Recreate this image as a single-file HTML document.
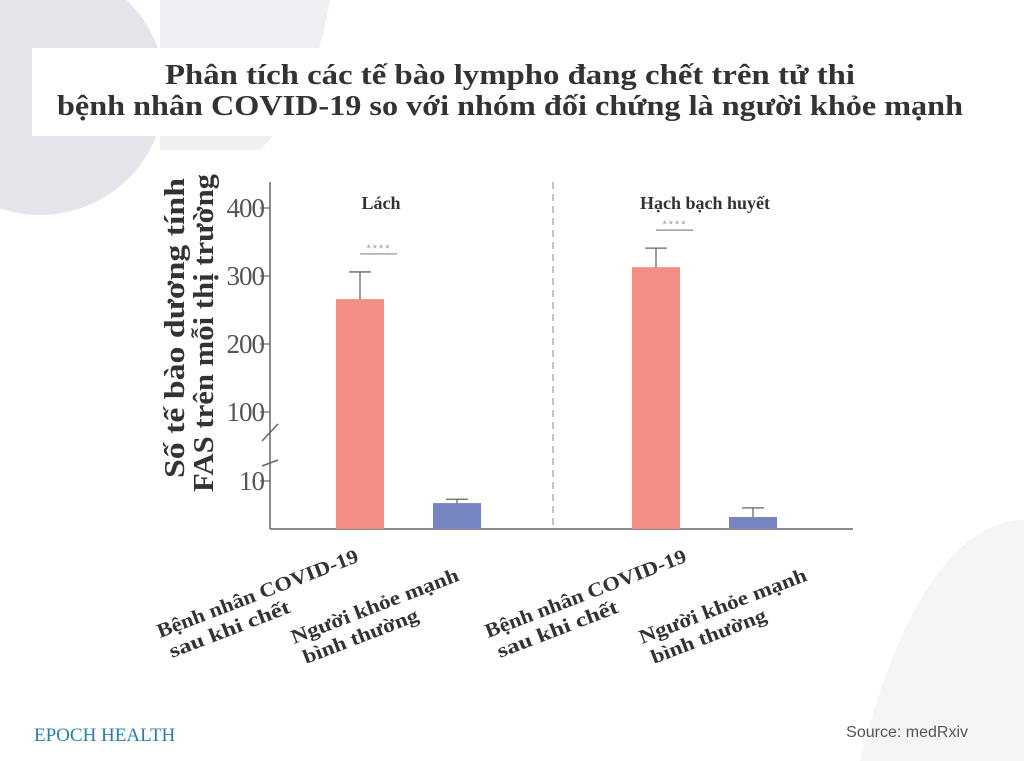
<!DOCTYPE html>
<html><head><meta charset="utf-8"><style>
html,body{margin:0;padding:0;background:#fff;width:1024px;height:761px;overflow:hidden}
svg{display:block}
</style></head><body>
<svg width="1024" height="761" viewBox="0 0 1024 761" id="svg">
<circle cx="40" cy="90" r="125" fill="#e4e5ea"/>
<path d="M160,0 L330,0 C320,60 300,110 260,150 L160,150 Z" fill="#eef0f3"/>
<path d="M1024,520 C960,520 900,600 860,761 L1024,761 Z" fill="#f5f5f6"/>
<rect x="32" y="48" width="992" height="88" fill="#fff"/>
<g font-family="Liberation Serif, serif" font-weight="bold" font-size="28" fill="#333" text-anchor="middle">
<text x="510" y="84" textLength="690" lengthAdjust="spacingAndGlyphs">Phân tích các tế bào lympho đang chết trên tử thi</text>
<text x="510" y="115" textLength="906" lengthAdjust="spacingAndGlyphs">bệnh nhân COVID-19 so với nhóm đối chứng là người khỏe mạnh</text>
</g>
<g font-family="Liberation Serif, serif" font-weight="bold" font-size="28" fill="#333">
<text transform="translate(184,478) rotate(-90)" textLength="300" lengthAdjust="spacingAndGlyphs">Số tế bào dương tính</text>
<text transform="translate(213,492) rotate(-90)" textLength="318" lengthAdjust="spacingAndGlyphs">FAS trên mỗi thị trường</text>
</g>
<g id="plot"></g>
<text x="34" y="741" font-family="Liberation Serif, serif" font-size="19" fill="#2a7fa8">EPOCH HEALTH</text>
<text x="968" y="737" text-anchor="end" font-family="Liberation Sans, sans-serif" font-size="16" fill="#555">Source: medRxiv</text>
</svg>
<script>
const groups=["Lách","Hạch bạch huyết"];
const covidValues=[266,313];
const covidErrors=[306,341];
const healthyValues=[5.4,2.5];
const healthyErrors=[6.2,4.4];
const topTicks=[100,200,300,400];
const bottomTicks=[10];
const xLabels=[["Bệnh nhân COVID-19","sau khi chết"],["Người khỏe mạnh","bình thường"]];

const NS="http://www.w3.org/2000/svg";
const g=document.getElementById('plot');
function mk(t,a,p){const e=document.createElementNS(NS,t);for(const k in a)e.setAttribute(k,a[k]);(p||g).appendChild(e);return e;}
function y(v){return v>=20?412-(v-100)*0.68:529-v*4.8;}
const X0=270,X1=853,BASE=529;
const barW=48;
const groupX=[336,632],gap=97;
const labelShift=[0,32];
const lineLens=[[214,128],[178,122]];
let ax=mk('line',{x1:X0,y1:182,x2:X0,y2:BASE,stroke:'#666','stroke-width':1.5});

let bx=mk('line',{x1:X0,y1:BASE,x2:X1,y2:BASE,stroke:'#666','stroke-width':1.5});

[[420,445],[456,470]].forEach(function(s){const l=mk('line',{x1:X0-8,y1:s[1]-4,x2:X0+8,y2:s[0]+4,stroke:'#666','stroke-width':1.5});
});
topTicks.concat(bottomTicks).forEach(function(v){
 const yy=y(v);
 const t=mk('line',{x1:X0-10,y1:yy,x2:X0,y2:yy,stroke:'#666','stroke-width':1.2});
 
 const tx=mk('text',{x:X0-6,y:yy+9,'text-anchor':'end','font-family':'Liberation Serif, serif','font-size':27,fill:'#555','letter-spacing':'-1'});
 tx.textContent=v;
});
const dl=mk('line',{x1:553,y1:182,x2:553,y2:BASE,stroke:'#888','stroke-width':1,'stroke-dasharray':'7,5'});

groups.forEach(function(name,i){
 const gx=groupX[i];
 const lt=mk('text',{x:gx+(i?73:45),y:209,'text-anchor':'middle','font-family':'Liberation Serif, serif','font-weight':'bold','font-size':18,fill:'#333'});
 lt.textContent=name;
 [[covidValues[i],covidErrors[i],'#f48e85','bar-covid'],[healthyValues[i],healthyErrors[i],'#7786c2','bar-healthy']].forEach(function(d,j){
  const x=gx+j*gap;
  const r=mk('rect',{x:x,y:y(d[0]),width:barW,height:BASE-y(d[0]),fill:d[2]});
  
  const e=mk('path',{d:'M'+(x+barW/2)+','+y(d[0])+'V'+y(d[1])+'M'+(x+barW/2-11)+','+y(d[1])+'H'+(x+barW/2+11),stroke:'#666','stroke-width':1.3,fill:'none'});
  
 });
 const sy=y(covidErrors[i])-18;
 const sl=mk('line',{x1:gx+24,y1:sy,x2:gx+61,y2:sy,stroke:'#888','stroke-width':1.2});
 
 const st=mk('text',{x:gx+43,y:sy-2,'text-anchor':'middle','font-family':'Liberation Sans, sans-serif','font-size':11,fill:'#999','letter-spacing':'2'});
 st.textContent='****';
 xLabels.forEach(function(lbl,j){
  const sx=gx-176+labelShift[i]+j*(134+(i?20:0));
  const sy2=j?644:638;
  const t=mk('text',{transform:'translate('+sx+','+sy2+') rotate(-21)','font-family':'Liberation Serif, serif','font-weight':'bold','font-size':20,fill:'#333'});
  
  const a=mk('tspan',{x:0,dy:0,textLength:lineLens[j][0],lengthAdjust:'spacingAndGlyphs'},t);a.textContent=lbl[0];
  const b=mk('tspan',{x:4,dy:23,textLength:lineLens[j][1],lengthAdjust:'spacingAndGlyphs'},t);b.textContent=lbl[1];
 });
});
</script>
</body></html>
